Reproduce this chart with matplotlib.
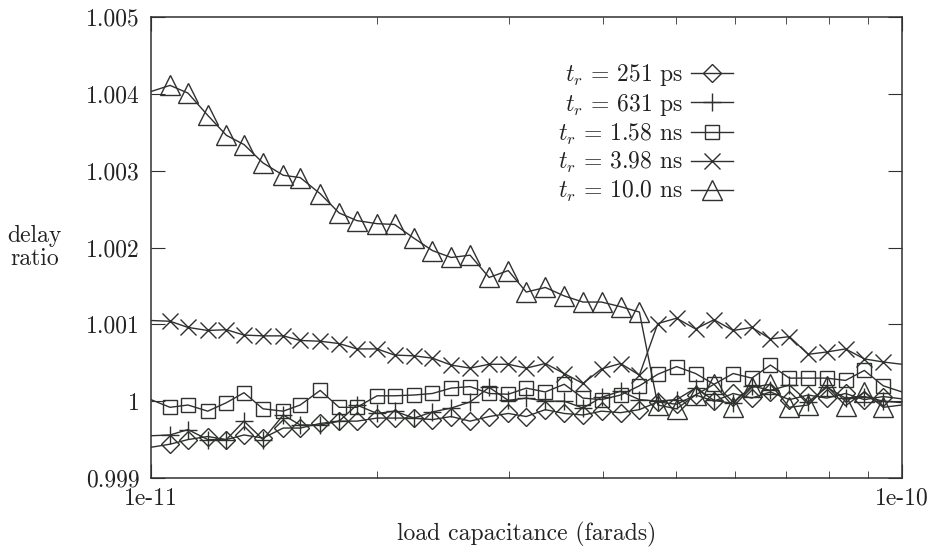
import numpy as np
import matplotlib
matplotlib.use("Agg")
import matplotlib.pyplot as plt
from matplotlib.ticker import FixedLocator, NullFormatter

plt.rcParams['font.family'] = ['cmr10', 'DejaVu Serif']
plt.rcParams['mathtext.fontset'] = 'cm'
plt.rcParams['axes.formatter.use_mathtext'] = True

# load capacitance in pF (40 steps per decade, first/last sit on the border)
cap_pf = [10.0, 10.6, 11.2, 11.9, 12.6, 13.3, 14.1, 15.0, 15.8, 16.8,
          17.8, 18.8, 20.0, 21.1, 22.4, 23.7, 25.1, 26.6, 28.2, 29.9,
          31.6, 33.5, 35.5, 37.6, 39.8, 42.2, 44.7, 47.3, 50.1, 53.1,
          56.2, 59.6, 63.1, 66.8, 70.8, 75.0, 79.4, 84.1, 89.1, 94.4, 100.0]

tr_251ps = [0.99940, 0.99944, 0.99950, 0.99954, 0.99950, 0.99956, 0.99952, 0.99965, 0.99965, 0.99971,
            0.99974, 0.99974, 0.99978, 0.99978, 0.99978, 0.99976, 0.99980, 0.99974, 0.99980, 0.99984,
            0.99980, 0.99989, 0.99984, 0.99982, 0.99987, 0.99985, 0.99989, 0.99999, 0.99996, 1.00008,
            1.00000, 1.00010, 1.00004, 1.00012, 1.00002, 1.00008, 1.00004, 1.00010, 1.00002, 1.00006, 1.00003]

tr_631ps = [0.99955, 0.99956, 0.99963, 0.99950, 0.99950, 0.99974, 0.99950, 0.99982, 0.99969, 0.99969,
            0.99974, 0.99995, 0.99984, 0.99987, 0.99978, 0.99986, 0.99991, 0.99999, 1.00018, 1.00001,
            1.00004, 1.00000, 1.00000, 0.99991, 1.00005, 1.00013, 1.00002, 1.00000, 1.00002, 1.00017,
            1.00001, 0.99997, 1.00020, 1.00014, 1.00021, 0.99999, 1.00018, 1.00004, 1.00006, 1.00000, 0.99998]

tr_158ns = [1.00002, 0.99992, 0.99995, 0.99987, 0.99998, 1.00011, 0.99990, 0.99987, 0.99995, 1.00014,
            0.99992, 0.99992, 1.00007, 1.00007, 1.00008, 1.00010, 1.00017, 1.00019, 1.00010, 1.00009,
            1.00017, 1.00012, 1.00022, 1.00004, 1.00002, 1.00008, 1.00020, 1.00035, 1.00045, 1.00036,
            1.00022, 1.00036, 1.00030, 1.00047, 1.00030, 1.00030, 1.00030, 1.00027, 1.00040, 1.00020, 1.00012]

tr_398ns = [1.00105, 1.00104, 1.00096, 1.00092, 1.00093, 1.00086, 1.00085, 1.00085, 1.00079, 1.00078,
            1.00075, 1.00068, 1.00068, 1.00060, 1.00059, 1.00056, 1.00047, 1.00043, 1.00048, 1.00048,
            1.00043, 1.00049, 1.00036, 1.00023, 1.00042, 1.00049, 1.00034, 1.00101, 1.00108, 1.00094,
            1.00106, 1.00092, 1.00096, 1.00081, 1.00084, 1.00061, 1.00064, 1.00068, 1.00055, 1.00051, 1.00048]

tr_100ns = [1.00403, 1.00411, 1.00401, 1.00372, 1.00346, 1.00334, 1.00310, 1.00294, 1.00291, 1.00270,
            1.00245, 1.00235, 1.00231, 1.00230, 1.00212, 1.00196, 1.00187, 1.00190, 1.00161, 1.00170,
            1.00142, 1.00148, 1.00137, 1.00129, 1.00129, 1.00123, 1.00116, 0.99995, 0.99990, 1.00008,
            1.00022, 0.99993, 1.00018, 1.00022, 0.99992, 0.99995, 1.00020, 0.99994, 1.00012, 0.99992, 0.99995]

labels = [r'$t_r$ = 251 ps', r'$t_r$ = 631 ps', r'$t_r$ = 1.58 ns',
          r'$t_r$ = 3.98 ns', r'$t_r$ = 10.0 ns']
series = [tr_251ps, tr_631ps, tr_158ns, tr_398ns, tr_100ns]
markers = ['D', '+', 's', 'x', '^']
msizes = [9.5, 13, 10, 11, 15]

ink = '#2e312e'
txt = '#222222'
fs = 17
cap = np.array(cap_pf) * 1e-12

fig = plt.figure(figsize=(9.37, 5.54), dpi=100)
ax = fig.add_axes([151/937, 1 - 478/554, 751/937, 461/554])

for ys, m, ms, lab in zip(series, markers, msizes, labels):
    # gnuplot leaves out the points sitting on the border
    ax.plot(cap, ys, color=ink, lw=1.0, marker=m, ms=ms, mfc='none', mec=ink,
            mew=1.0, markevery=list(range(1, len(cap) - 1)), label=lab)

ax.set_xscale('log')
ax.set_xlim(1e-11, 1e-10)
ax.set_ylim(0.999, 1.005)

ax.xaxis.set_major_locator(FixedLocator([1e-11, 1e-10]))
ax.xaxis.set_minor_locator(FixedLocator([k * 1e-11 for k in range(2, 10)]))
ax.xaxis.set_minor_formatter(NullFormatter())
ax.set_xticklabels(['1e-11', '1e-10'])
ax.set_yticks([0.999, 1.0, 1.001, 1.002, 1.003, 1.004, 1.005])
ax.set_yticklabels(['0.999', '1', '1.001', '1.002', '1.003', '1.004', '1.005'])

ax.tick_params(which='both', direction='in', top=True, right=True, colors=ink,
               labelsize=fs, labelcolor=txt)
ax.tick_params(axis='y', which='major', length=10, pad=8)
ax.tick_params(axis='x', which='major', length=10, pad=7)
ax.tick_params(axis='x', which='minor', length=5)
for s in ax.spines.values():
    s.set_color(ink)
    s.set_linewidth(1.1)

ax.set_xlabel('load capacitance (farads)', fontsize=fs, color=txt, labelpad=9)
ax.set_ylabel('delay\nratio', fontsize=fs, color=txt, rotation=0,
              ha='center', va='center', linespacing=1.05)
ax.yaxis.set_label_coords(-0.155, 0.5)

leg = ax.legend(loc='upper right', bbox_to_anchor=(0.787, 0.923), frameon=False,
                markerfirst=False, numpoints=1, handlelength=1.75, handletextpad=0.35,
                labelspacing=0.16, fontsize=fs, borderaxespad=0)
for t in leg.get_texts():
    t.set_color(txt)

fig.savefig('out.png', dpi=100, facecolor='white')
